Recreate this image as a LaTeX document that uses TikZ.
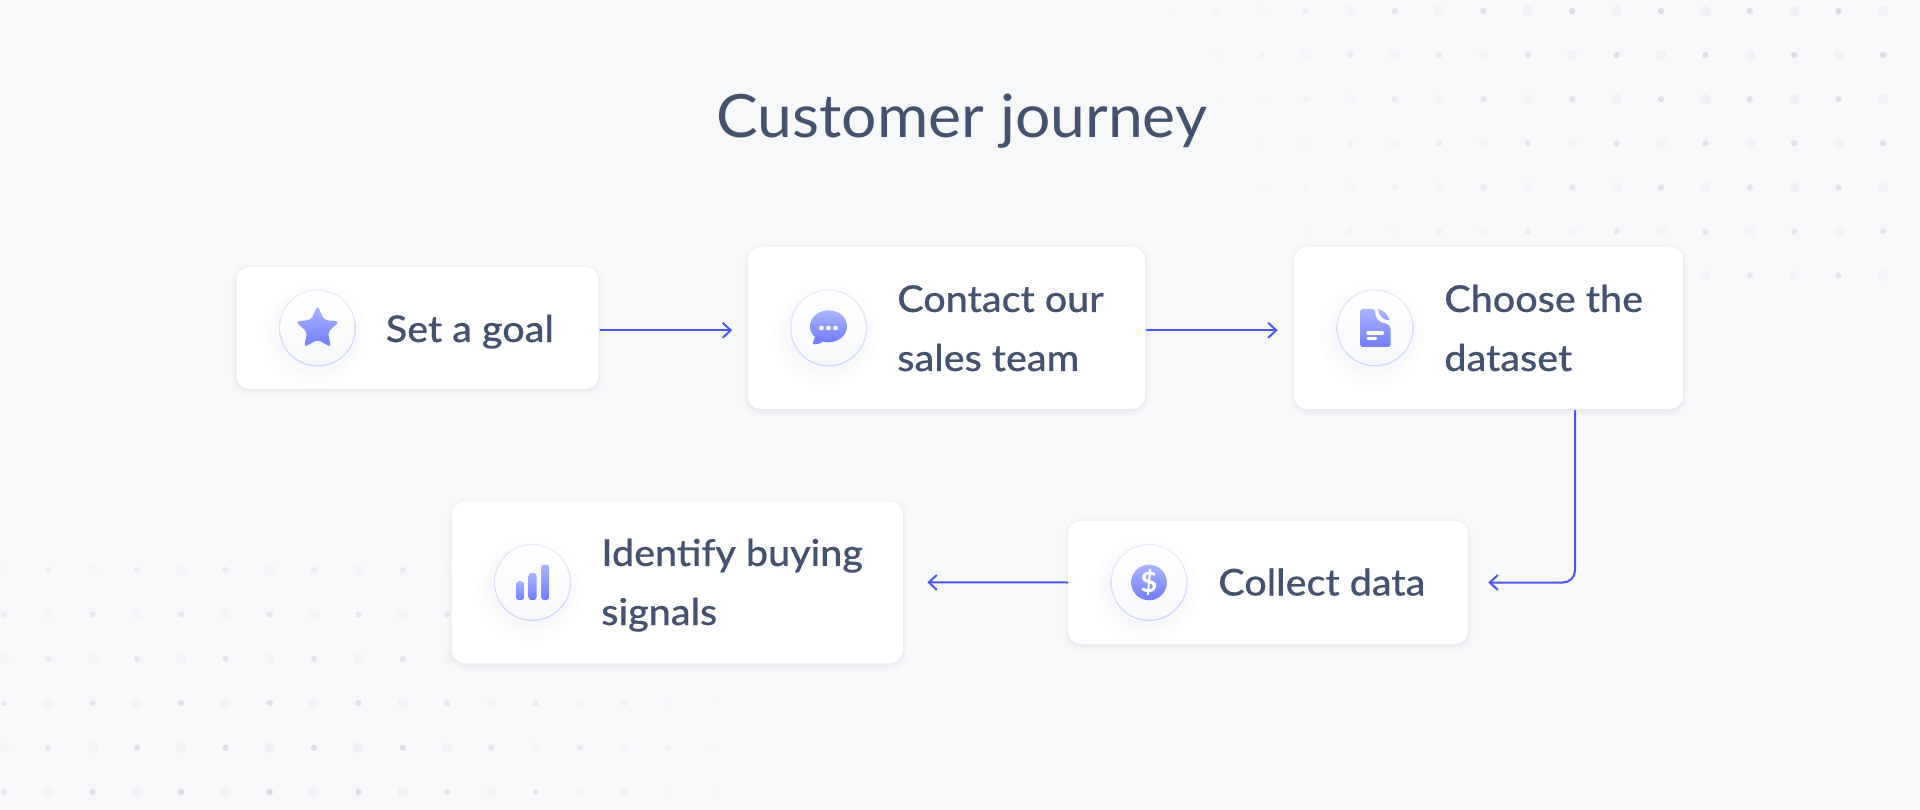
\documentclass[tikz,border=0pt]{standalone}
\usepackage{fontspec}
\setmainfont{Lato}[FakeStretch=1.045]
\newfontfamily\cardfont[FakeStretch=1.07,FakeBold=.25]{Lato Medium}
\usetikzlibrary{arrows.meta}
\def\px{.02cm}
\definecolor{pagebg}{HTML}{F7F8FA}
\definecolor{inkc}{HTML}{43526F}
\definecolor{flowc}{HTML}{4A56F0}
\definecolor{iconlight}{HTML}{A8B4FE}
\definecolor{icondark}{HTML}{6F7DFB}
\definecolor{dotdark}{HTML}{D8DAE5}
\definecolor{dotpale}{HTML}{F0F1F4}
\definecolor{badgeedgetop}{HTML}{E9ECFA}
\definecolor{badgeedge}{HTML}{C8D2FC}
\tikzset{
	cardbox/.style={rectangle, rounded corners=.26cm, fill=white, inner sep=0pt,
		preaction={draw=black!60!blue, opacity=.008, line width=12*\px, transform canvas={yshift=-2*\px}},
		preaction={draw=black!60!blue, opacity=.014, line width=6*\px, transform canvas={yshift=-2*\px}},
		preaction={draw=black!60!blue, opacity=.025, line width=2.5*\px, transform canvas={yshift=-1.5*\px}}},
	badge/.style={circle, minimum size=77*\px, inner sep=0pt, top color=badgeedgetop, bottom color=badgeedge,
		preaction={draw=blue!30!gray, opacity=.006, line width=28*\px, transform canvas={xshift=-3*\px,yshift=-7*\px}},
		preaction={draw=blue!30!gray, opacity=.01, line width=16*\px, transform canvas={xshift=-3*\px,yshift=-7*\px}},
		preaction={draw=blue!30!gray, opacity=.016, line width=8*\px, transform canvas={xshift=-2*\px,yshift=-5*\px}}},
	icon/.style={top color=iconlight, bottom color=icondark},
	cardtext/.style={text=inkc, inner sep=0pt, align=left, font=\cardfont\fontsize{21}{33.6}\selectfont},
	flow/.style={draw=flowc, line width=2*\px, -{Straight Barb[length=8*\px,width=15*\px,line width=2*\px]}},
}
\begin{document}
\begin{tikzpicture}[x=.02cm, y=-.02cm, line join=round, line cap=round]
	\useasboundingbox (0,0) rectangle (1920,810);
	\fill[pagebg] (0,0) rectangle (1920,810);
	% dots, top right
	\foreach \r in {0,...,6} \foreach \c in {0,...,16} {
		\pgfmathsetmacro\dx{1172.6+44.4*\c} \pgfmathsetmacro\dy{11+44.1*\r}
		\pgfmathsetmacro\dop{min(1,max(0,(\dx-1150-22*\r)/420))*(1-.07*\r)}
		\pgfmathtruncatemacro\odd{mod(\r+\c,2)}
		\ifnum\odd=1 \fill[dotdark,opacity=\dop] (\dx,\dy) circle (3.1);
		\else \fill[dotpale,opacity=\dop] (\dx,\dy) circle (5.5); \fi
	}
	% dots, bottom left
	\foreach \r in {0,...,5} \foreach \c in {0,...,16} {
		\pgfmathsetmacro\dx{4+44.3*\c} \pgfmathsetmacro\dy{570+44.4*\r}
		\pgfmathsetmacro\dop{min(1,max(0,(740-\dx)/350))*min(1,.6+\dx/500)*(.45+.11*\r)}
		\pgfmathtruncatemacro\odd{mod(\r+\c,2)}
		\ifnum\odd=1 \fill[dotdark,opacity=\dop] (\dx,\dy) circle (3.1);
		\else \fill[dotpale,opacity=\dop] (\dx,\dy) circle (5.5); \fi
	}
	\node[text=inkc, inner sep=0pt, anchor=base west, font=\fontsize{34}{36}\selectfont] (title) at (716,138) {Customer journey};
	% cards
	\node[cardbox, minimum width=362*\px, minimum height=122*\px] (goal) at (417.5,328) {};
	\node[cardbox, minimum width=397.5*\px, minimum height=162*\px] (contact) at (946.25,328) {};
	\node[cardbox, minimum width=389*\px, minimum height=162*\px] (dataset) at (1488.5,328) {};
	\node[cardbox, minimum width=400*\px, minimum height=123*\px] (collect) at (1268,582.5) {};
	\node[cardbox, minimum width=451.3*\px, minimum height=161.3*\px] (signals) at (677.35,582.4) {};
	% badges
	\node[badge] (goalbadge) at (317.5,328) {};
	\node[badge] (contactbadge) at (828.5,328) {};
	\node[badge] (datasetbadge) at (1375,328) {};
	\node[badge] (collectbadge) at (1149,582.5) {};
	\node[badge] (signalsbadge) at (532.5,582.5) {};
	\foreach \b in {goalbadge,contactbadge,datasetbadge,collectbadge,signalsbadge}
		\path[top color=white, bottom color=pagebg] (\b.center) circle (37.2);
	% icons
	\begin{scope}[shift={(goalbadge.center)}, yshift=-.7*\px]
		\path[icon, rounded corners=1.8pt] (270:22.8) \foreach \a/\rr in {306/11,342/22.8,18/11,54/22.8,90/11,126/22.8,162/11,198/22.8,234/11} {-- (\a:\rr)} -- cycle;
	\end{scope}
	\begin{scope}[shift={(contactbadge.center)}]
		\path[icon] (0,-1.7) ellipse [x radius=18.5, y radius=16];
		\fill[icondark!90!iconlight, rounded corners=.8pt] (-13,7) -- (-15.5,14.5) -- (-16,16.5) -- (-10,16) -- (-4,13) -- cycle;
		\foreach \x in {-7,0,7} \fill[white] (\x,0) circle (2.4);
	\end{scope}
	\begin{scope}[shift={(datasetbadge.center)}]
		\path[icon, rounded corners=1.6pt] (-15,-19) -- (0,-19) .. controls (0,-10) and (4,-5.5) .. (12,-4.5) -- (15.7,-1) -- (15.7,19) -- (-15,19) -- cycle;
		\path[top color=iconlight, bottom color=icondark!30!iconlight] (3.3,-19) .. controls (9,-17.5) and (13,-13) .. (14.5,-7.7) .. controls (9,-8) and (4,-11) .. (3.3,-19) -- cycle;
		\draw[white, line width=2pt] (-7,5) -- (7.3,5) (-7,10.3) -- (.7,10.3);
	\end{scope}
	\node[icon, circle, minimum size=35.6*\px, inner sep=0pt, text=white, font=\bfseries\fontsize{16}{16}\selectfont] (coin) at (collectbadge.center) {\$};
	\begin{scope}[shift={(signalsbadge.center)}]
		\path[icon, rounded corners=1.9pt] (-16.5,-1.3) rectangle (-8.3,17.7);
		\path[icon, rounded corners=1.9pt] (-4,-9.7) rectangle (4.2,17.7);
		\path[icon, rounded corners=1.9pt] (8.5,-18) rectangle (16.7,17.7);
	\end{scope}
	% card texts
	\node[cardtext, anchor=base west] (goaltext) at (385.5,342) {Set a goal};
	\node[cardtext, anchor=base west] (contacttext) at (897,371) {Contact our\\sales team};
	\node[cardtext, anchor=base west] (datasettext) at (1444,371) {Choose the\\dataset};
	\node[cardtext, anchor=base west] (collecttext) at (1218,595.5) {Collect data};
	\node[cardtext, anchor=base west] (signalstext) at (601,625) {Identify buying\\signals};
	% connectors
	\coordinate (lineA) at (0,330.3);
	\coordinate (lineC) at (1575,582);
	\draw[flow, shorten <=1.5*\px, shorten >=15*\px] (goal.east |- lineA) -- (contact.west |- lineA);
	\draw[flow, shorten <=1.5*\px, shorten >=16*\px] (contact.east |- lineA) -- (dataset.west |- lineA);
	\draw[flow, rounded corners=.24cm, shorten <=1.5*\px, shorten >=20*\px] (dataset.south -| lineC) |- (collect.east);
	\draw[flow, shorten >=24*\px] (collect.west) -- (signals.east);
\end{tikzpicture}
\end{document}
